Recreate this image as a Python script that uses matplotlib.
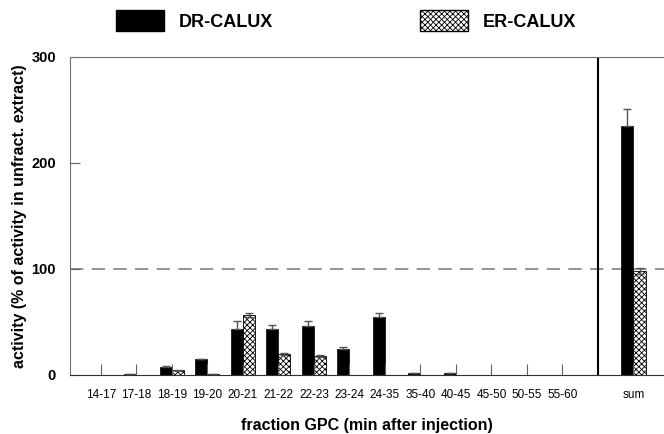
import numpy as np
import matplotlib
matplotlib.use("Agg")
import matplotlib.pyplot as plt
from matplotlib.patches import Patch

plt.rcParams['font.family'] = ['Liberation Sans', 'DejaVu Sans']
plt.rcParams['hatch.linewidth'] = 0.6

#------------------------------------------------------------------------------
# data
fractions = ["14-17", "17-18", "18-19", "19-20", "20-21", "21-22", "22-23",
             "23-24", "24-35", "35-40", "40-45", "45-50", "50-55", "55-60"]
dr_calux = [0., 1., 7.8, 15., 43., 43.7, 46.5, 24.8, 54.4, 2., 2., 0., 0., 0.]
dr_err   = [0., 0., 0.8, 0.5, 8., 3.5, 4., 2., 4., 0., 0., 0., 0., 0.]
er_calux = [0., 0., 4.5, 1., 56.6, 20., 17.6, 0., 0., 0., 0., 0., 0., 0.]
er_err   = [0., 0., 0.5, 0., 1.5, 1., 1., 0., 0., 0., 0., 0., 0., 0.]
sum_label = "sum"
dr_sum, dr_sum_err = 235., 16.
er_sum, er_sum_err = 98., 3.
reference = 100.

#------------------------------------------------------------------------------
labels = fractions + ["", sum_label]
x = np.arange(len(labels))
dr = np.array(dr_calux + [0., dr_sum])
dre = np.array(dr_err + [0., dr_sum_err])
er = np.array(er_calux + [0., er_sum])
ere = np.array(er_err + [0., er_sum_err])
dr = np.where(dr > 0, dr, np.nan)       # empty fractions: no bar drawn
er = np.where(er > 0, er, np.nan)
w = 0.34
ekw = dict(ecolor='#555555', elinewidth=1, capsize=3, capthick=1)

fig = plt.figure(figsize=(6.64, 4.34), dpi=100)
ax = fig.add_axes([70/664, 59/434, 594/664, 318/434])

# only the upper whisker shows above the black bars
ax.bar(x - w/2, dr, w, color='black', edgecolor='black', linewidth=0.5,
       yerr=[np.zeros_like(dre), dre], error_kw=ekw)
ax.bar(x + w/2, er, w, color='white', edgecolor='black', linewidth=0.6, hatch='xxxxxx',
       yerr=ere, error_kw=ekw)

ax.axhline(reference, color='#808080', linestyle=(0, (8, 5)), linewidth=1.2, zorder=0)
ax.axvline(len(fractions), color='black', linewidth=1.5)

ax.set_xlim(-0.87, 15.86)
ax.set_ylim(0, 300)
ax.set_yticks([0, 100, 200, 300])
ax.set_xticks(x)
ax.set_xticklabels(labels, fontsize=8.5)
ax.tick_params(axis='x', direction='in', length=8, width=0.8, color='#606060', pad=10)
ax.tick_params(axis='y', direction='in', length=7, width=0.8, color='#606060', labelsize=10.5, pad=10)
for lab in ax.get_yticklabels():
    lab.set_fontweight('bold')

ax.spines['right'].set_visible(False)
for s in ['left', 'top']:
    ax.spines[s].set_color('#707070')
ax.spines['bottom'].set_color('#303030')

ax.set_xlabel('fraction GPC (min after injection)', fontsize=11.5, fontweight='bold', labelpad=12)
ax.set_ylabel('activity (% of activity in unfract. extract)', fontsize=11.5, fontweight='bold', labelpad=3)

handles = [Patch(facecolor='black', edgecolor='black', label='DR-CALUX'),
           Patch(facecolor='white', edgecolor='black', hatch='xxxxxx', label='ER-CALUX')]
fig.legend(handles=handles, loc='upper left', bbox_to_anchor=(107/664, 0.997), ncol=2,
           frameon=False, prop=dict(size=13, weight='bold'), handlelength=2.65,
           handleheight=1.4, handletextpad=0.85, columnspacing=8.1, borderaxespad=0.1)

fig.savefig('out.png', dpi=100)
